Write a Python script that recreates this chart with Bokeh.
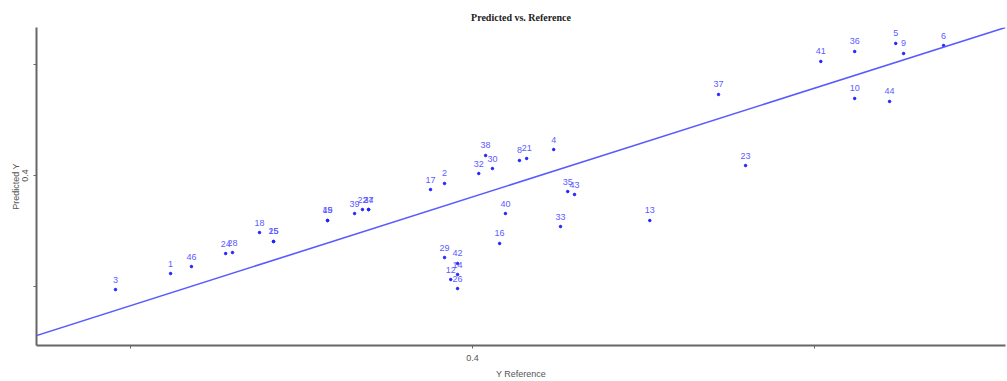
from bokeh.plotting import figure
from bokeh.models import ColumnDataSource, FixedTicker, Range1d, Slope
from bokeh.core.properties import value
from bokeh.embed import file_html
from bokeh.resources import INLINE

# Sample ids and their reference / predicted values
ids = ["1", "2", "3", "4", "5", "6", "8", "9", "10", "12", "13", "14", "15", "16",
       "17", "18", "19", "21", "22", "23", "24", "25", "26", "27", "28", "29", "30",
       "32", "33", "34", "35", "36", "37", "38", "39", "40", "41", "42", "43", "44",
       "45", "46"]
y_ref = [0.3117, 0.3918, 0.2956, 0.4237, 0.5237, 0.5377, 0.4137, 0.5260, 0.5117,
         0.3936, 0.4518, 0.3956, 0.3418, 0.4079, 0.3877, 0.3377, 0.3576, 0.4158,
         0.3678, 0.4798, 0.3278, 0.3418, 0.3956, 0.3696, 0.3298, 0.3918, 0.4058,
         0.4018, 0.4257, 0.3696, 0.4278, 0.5117, 0.4719, 0.4038, 0.3655, 0.4096,
         0.5018, 0.3956, 0.4298, 0.5219, 0.3576, 0.3178]
y_pred = [0.3113, 0.3928, 0.2968, 0.4235, 0.5195, 0.5176, 0.4136, 0.5104, 0.4697,
          0.3059, 0.3593, 0.3104, 0.3403, 0.3385, 0.3873, 0.3484, 0.3593, 0.4154,
          0.3692, 0.4090, 0.3294, 0.3403, 0.2977, 0.3692, 0.3303, 0.3258, 0.4063,
          0.4018, 0.3538, 0.3692, 0.3855, 0.5122, 0.4733, 0.4181, 0.3656, 0.3656,
          0.5032, 0.3204, 0.3828, 0.4670, 0.3593, 0.3176]

# fitted line
fit_slope = 0.9838
fit_intercept = -0.0129

x_ticks = [0.3, 0.4, 0.5]
y_ticks = [0.3, 0.4, 0.5]
shown_tick = 0.4

src = ColumnDataSource(dict(x=y_ref, y=y_pred, label=ids))

p = figure(width=1007, height=381, output_backend="svg", toolbar_location=None,
           x_range=Range1d(0.2725, 0.5558), y_range=Range1d(0.2462, 0.5339),
           min_border_left=36, min_border_right=2, min_border_top=27,
           min_border_bottom=36)
p.outline_line_color = None
p.xgrid.visible = False
p.ygrid.visible = False
p.background_fill_color = "white"
p.border_fill_color = "white"

p.title.text = "Predicted vs. Reference"
p.title.align = "center"
p.title.text_font = "Liberation Serif"
p.title.text_font_size = "10px"
p.title.text_font_style = "bold"
p.title.text_color = "#222222"
p.title.offset = 0
p.title.standoff = 10

for ax, ticks in ((p.xaxis[0], x_ticks), (p.yaxis[0], y_ticks)):
    ax.ticker = FixedTicker(ticks=ticks)
    ax.major_label_overrides = {t: ("" if t != shown_tick else "0.4") for t in ticks}
    ax.axis_line_color = "#666666"
    ax.axis_line_width = 2
    ax.major_tick_line_color = "#666666"
    ax.major_tick_in = 0
    ax.major_tick_out = 3
    ax.minor_tick_line_color = None
    ax.major_label_text_font = "Liberation Sans"
    ax.major_label_text_font_size = "9px"
    ax.major_label_text_color = "#555555"
    ax.axis_label_text_font = "Liberation Sans"
    ax.axis_label_text_font_size = "9px"
    ax.axis_label_text_font_style = "normal"
    ax.axis_label_text_color = "#555555"

p.xaxis.major_label_standoff = 6
p.xaxis.axis_label_standoff = 5
p.yaxis.major_label_standoff = 5
p.yaxis.axis_label_standoff = -1

p.xaxis.axis_label = "Y Reference"
p.yaxis.axis_label = "Predicted Y"
p.yaxis.major_label_orientation = "vertical"

p.add_layout(Slope(gradient=fit_slope, y_intercept=fit_intercept,
                   line_color="#5a5aff", line_width=1.6))

p.scatter("x", "y", source=src, size=2.5, marker="circle",
          fill_color="#2020ff", line_color="#2020ff")
p.text("x", "y", text="label", source=src, text_align="center",
       text_baseline="bottom", y_offset=-7, text_font=value("Liberation Sans"),
       text_font_size="9px", text_color="#5c5cff")

open("out.html", "w").write(file_html(p, INLINE))
